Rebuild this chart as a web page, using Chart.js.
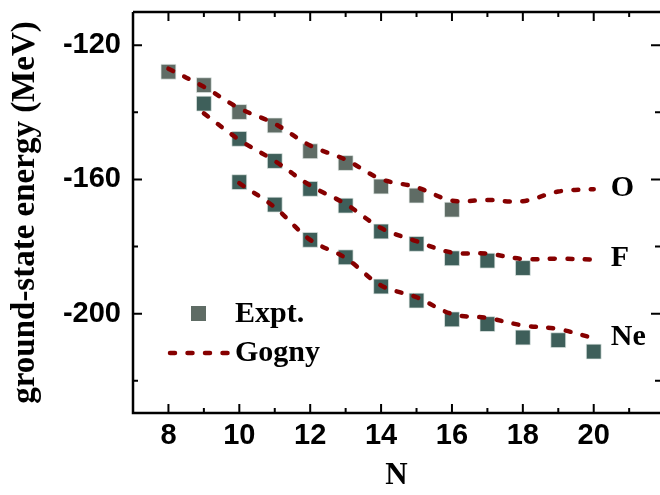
<!DOCTYPE html>
<html>
<head>
<meta charset="utf-8">
<script src="https://cdn.jsdelivr.net/npm/chart.js@4.4.0/dist/chart.umd.min.js"></script>
<style>
  html, body { margin: 0; padding: 0; background: #ffffff; }
  #wrap { width: 660px; height: 495px; }
</style>
</head>
<body>
<div id="wrap"><canvas id="chart" width="660" height="495"></canvas></div>
<script>
// neutron number N for each series
const nO = [8, 9, 10, 11, 12, 13, 14, 15, 16];
const nF = [9, 10, 11, 12, 13, 14, 15, 16, 17, 18];
const nNe = [10, 11, 12, 13, 14, 15, 16, 17, 18, 19, 20];

// experimental ground-state energies (MeV)
const exptO = [-127.9, -131.9, -139.9, -143.9, -151.6, -155.1, -162.1, -164.8, -169.0];
const exptF = [-137.4, -147.9, -154.5, -162.8, -167.8, -175.5, -179.2, -183.5, -184.2, -186.4];
const exptNe = [-160.8, -167.5, -178.0, -183.2, -191.9, -196.1, -201.7, -203.1, -207.1, -207.9, -211.3];

// Gogny calculation
const gnO = [8, 9, 10, 11, 12, 13, 14, 15, 16, 17, 18, 19, 20];
const gognyO = [-127.0, -132.4, -138.8, -143.4, -149.9, -154.1, -159.9, -162.3, -166.3, -166.1, -166.5, -163.6, -162.9];
const gnF = [9, 10, 11, 12, 13, 14, 15, 16, 17, 18, 19, 20];
const gognyF = [-140.3, -148.2, -154.5, -161.8, -167.3, -174.5, -178.4, -181.8, -182.1, -183.7, -183.6, -183.9];
const gnNe = [10, 11, 12, 13, 14, 15, 16, 17, 18, 19, 20];
const gognyNe = [-161.1, -168.3, -178.0, -183.4, -191.6, -195.1, -200.1, -201.3, -203.5, -204.6, -207.3];

// tick values
const xMajor = [8, 10, 12, 14, 16, 18, 20];
const xMinor = [9, 11, 13, 15, 17, 19, 21];
const yMajor = [-200, -160, -120];
const yMinor = [-220, -180, -140];

const seriesNames = ["O", "F", "Ne"];

const pts = (xs, ys) => xs.map((x, i) => ({ x: x, y: ys[i] }));

const lineRed = "#860000";
const sqLight = "#5f6c65";
const sqDark = "#3e5f5a";

const exptSet = (xs, ys, col) => ({
  type: "scatter",
  data: pts(xs, ys),
  showLine: false,
  pointStyle: "rect",
  pointRadius: 10.5,
  pointHoverRadius: 10.5,
  backgroundColor: col,
  borderColor: "rgba(230,236,233,0.7)",
  borderWidth: 1,
  order: 2,
});

const gognySet = (xs, ys) => ({
  type: "line",
  data: pts(xs, ys),
  borderColor: lineRed,
  borderWidth: 4.5,
  borderDash: [5, 12.5],
  borderCapStyle: "round",
  pointRadius: 0,
  tension: 0.35,
  fill: false,
  order: 1,
});

// no extra label padding around the plot area
const noPad = (s) => {
  s.paddingTop = 0; s.paddingBottom = 0;
  s.paddingLeft = 0; s.paddingRight = 0;
};

// frame with inside ticks on all four sides
const framePlugin = {
  id: "frame",
  afterDraw(chart) {
    const { ctx, chartArea: a, scales } = chart;
    const xs = scales.x, ys = scales.y;
    ctx.save();
    ctx.strokeStyle = "#000";
    ctx.lineWidth = 2.5;
    ctx.beginPath();
    ctx.moveTo(a.left, a.top);
    ctx.lineTo(a.right + 3, a.top);
    ctx.moveTo(a.left, a.top);
    ctx.lineTo(a.left, a.bottom);
    ctx.lineTo(a.right + 3, a.bottom);
    ctx.stroke();
    ctx.lineWidth = 2;
    ctx.beginPath();
    const tx = (v, len) => {
      const p = xs.getPixelForValue(v);
      ctx.moveTo(p, a.bottom); ctx.lineTo(p, a.bottom - len);
      ctx.moveTo(p, a.top); ctx.lineTo(p, a.top + len);
    };
    const ty = (v, len) => {
      const p = ys.getPixelForValue(v);
      ctx.moveTo(a.left, p); ctx.lineTo(a.left + len, p);
      ctx.moveTo(a.right, p); ctx.lineTo(a.right - len, p);
    };
    xMajor.forEach(v => tx(v, 9));
    xMinor.forEach(v => tx(v, 5));
    yMajor.forEach(v => ty(v, 9));
    yMinor.forEach(v => ty(v, 5));
    ctx.stroke();

    // series names at the end of the Gogny curves
    ctx.fillStyle = "#000";
    ctx.font = "bold 30px 'Liberation Serif', 'Times New Roman', serif";
    ctx.textBaseline = "middle";
    ctx.textAlign = "left";
    [gognyO, gognyF, gognyNe].forEach((g, i) => {
      const xp = xs.getPixelForValue(20) + 17;
      const yp = ys.getPixelForValue(g[g.length - 1]) - 1;
      ctx.fillText(seriesNames[i], xp, yp);
    });

    // legend
    ctx.fillStyle = sqLight;
    ctx.fillRect(191, 306, 15, 15);
    ctx.fillStyle = "#000";
    ctx.fillText("Expt.", 235, 314);
    ctx.strokeStyle = lineRed;
    ctx.lineWidth = 4.5;
    ctx.lineCap = "round";
    ctx.setLineDash([5, 12.5]);
    ctx.beginPath();
    ctx.moveTo(170, 353);
    ctx.lineTo(230, 353);
    ctx.stroke();
    ctx.setLineDash([]);
    ctx.fillText("Gogny", 235, 353);
    ctx.restore();
  },
};

const tickFont = { family: "'Liberation Sans', Arial, sans-serif", size: 29, weight: "bold" };
const titleFont = { family: "'Liberation Serif', 'Times New Roman', serif", size: 31, weight: "bold" };

new Chart(document.getElementById("chart"), {
  data: {
    datasets: [
      gognySet(gnO, gognyO),
      gognySet(gnF, gognyF),
      gognySet(gnNe, gognyNe),
      exptSet(nO, exptO, sqLight),
      exptSet(nF, exptF, sqDark),
      exptSet(nNe, exptNe, sqDark),
    ],
  },
  options: {
    responsive: false,
    devicePixelRatio: 1,
    animation: false,
    layout: { autoPadding: false, padding: { left: 0, top: 12, right: 0, bottom: 0 } },
    plugins: { legend: { display: false }, tooltip: { enabled: false } },
    scales: {
      x: {
        type: "linear",
        min: 7,
        max: 21.87,
        afterBuildTicks: (s) => { s.ticks = xMajor.map(v => ({ value: v })); },
        afterFit: (s) => { s.height = 82; noPad(s); },
        grid: { display: false, drawTicks: false },
        border: { display: false },
        ticks: { color: "#000", font: tickFont, padding: 6, maxRotation: 0 },
        title: { display: true, text: "N", color: "#000", font: titleFont, padding: { top: 0, bottom: 0 } },
      },
      y: {
        type: "linear",
        min: -229.6,
        max: -110.1,
        afterBuildTicks: (s) => { s.ticks = yMajor.map(v => ({ value: v })); },
        afterFit: (s) => { s.width = 133; noPad(s); },
        grid: { display: false, drawTicks: false },
        border: { display: false },
        ticks: { color: "#000", font: tickFont, padding: 12 },
        title: {
          display: true,
          text: "ground-state energy (MeV)",
          color: "#000",
          font: { family: "'Liberation Serif', 'Times New Roman', serif", size: 33, weight: "bold" },
          padding: { top: 6, bottom: 0 },
        },
      },
    },
  },
  plugins: [framePlugin],
});
</script>
</body>
</html>
